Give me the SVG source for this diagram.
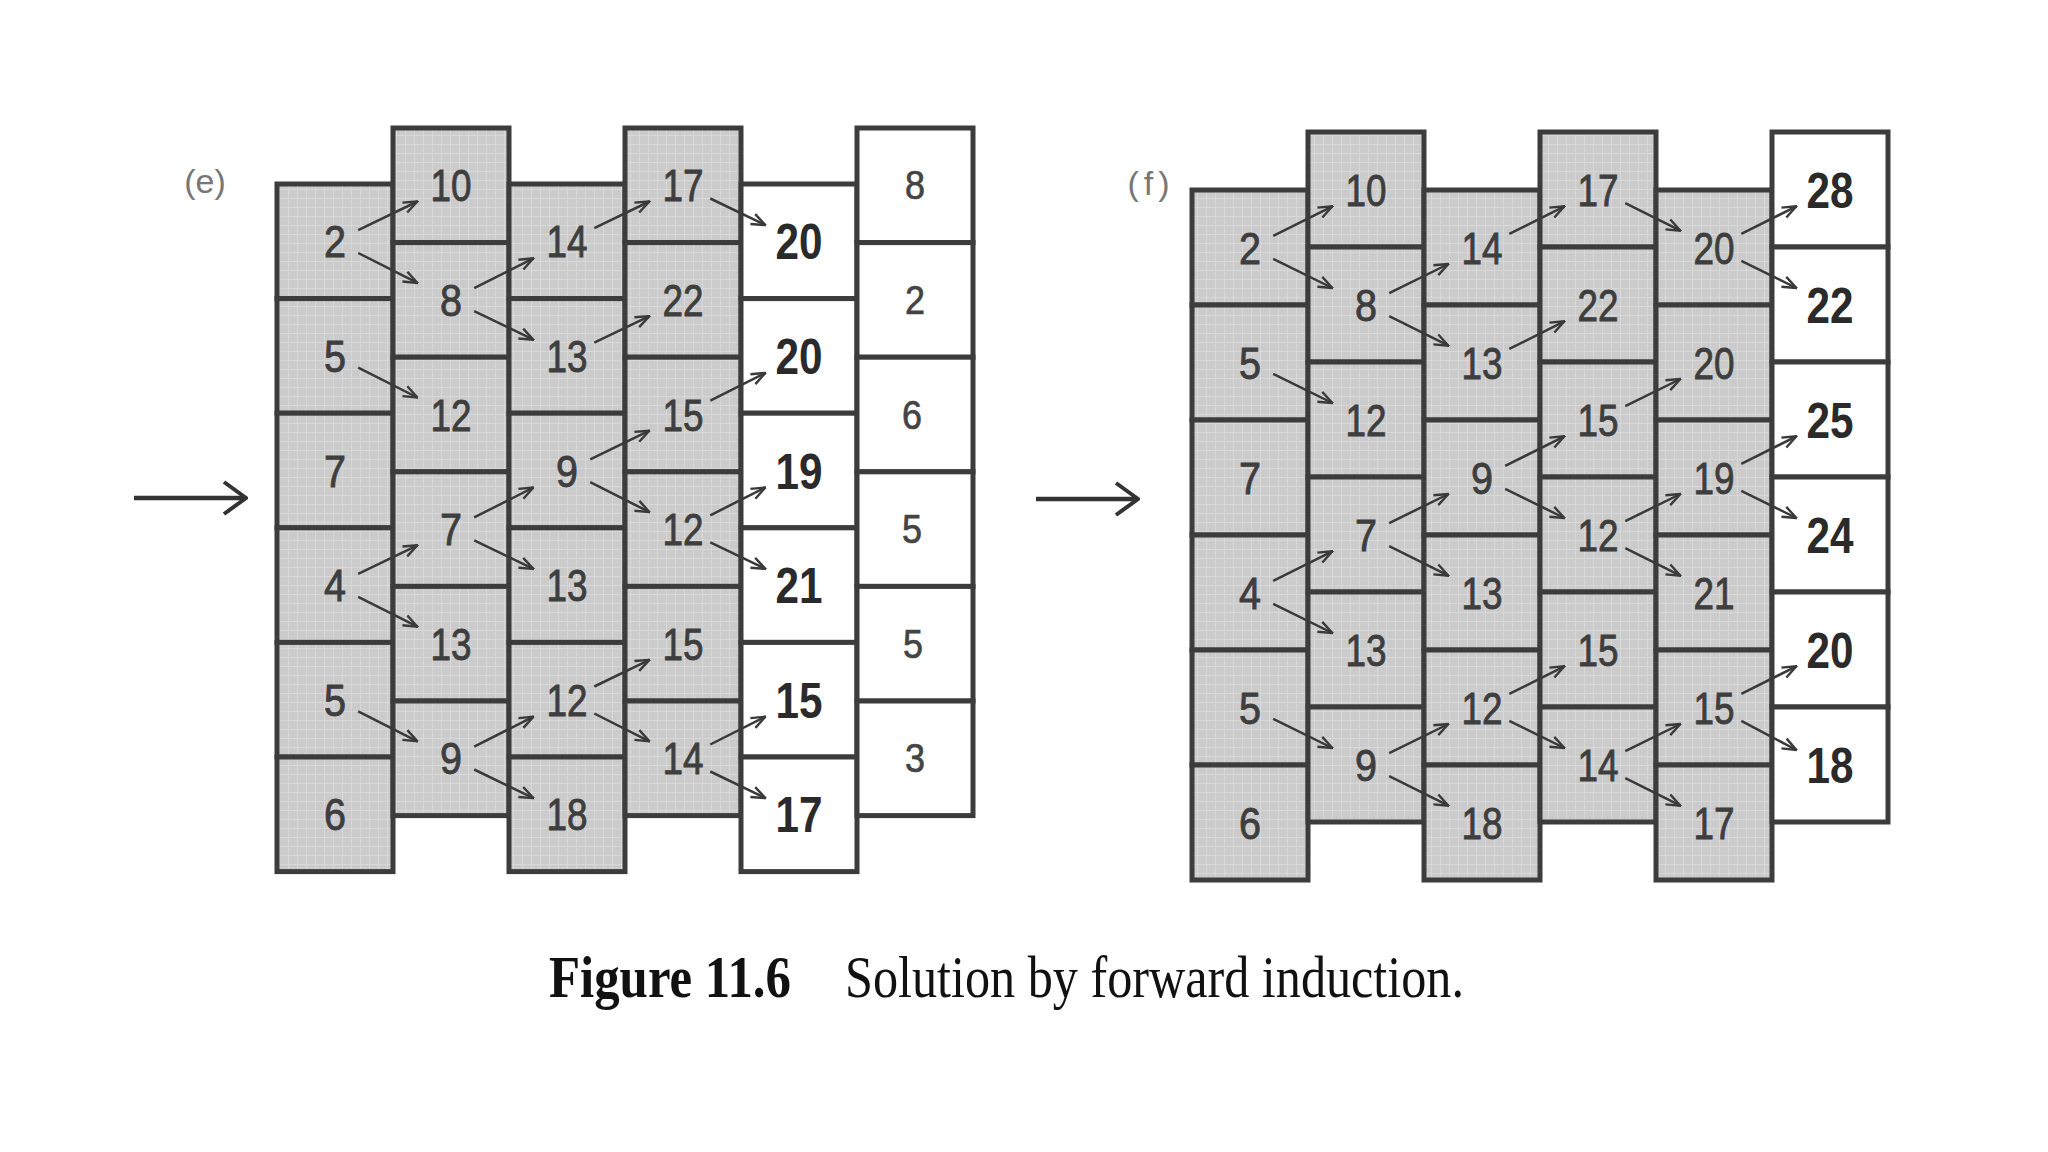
<svg xmlns="http://www.w3.org/2000/svg" width="2048" height="1152" viewBox="0 0 2048 1152">
<style>
.g{fill:url(#grid);stroke:#3c3c3c;stroke-width:5}
.w{fill:#ffffff;stroke:#3c3c3c;stroke-width:5}
.n{font-family:"Liberation Sans",Arial,sans-serif;font-size:45px;fill:#3e3e3e;stroke:#3e3e3e;stroke-width:0.9;text-anchor:middle}
.b{font-family:"Liberation Sans",Arial,sans-serif;font-size:50px;font-weight:bold;fill:#2a2a2a;text-anchor:middle}
.s{font-family:"Liberation Sans",Arial,sans-serif;font-size:40px;fill:#444444;stroke:#444444;stroke-width:0.7;text-anchor:middle}
.lab{font-family:"Liberation Sans",Arial,sans-serif;font-size:34px;fill:#777777;text-anchor:middle}
.a{stroke:#3a3a3a;stroke-width:2.5;fill:none;marker-end:url(#ah)}
.big{stroke:#333333;stroke-width:4.5;fill:none;marker-end:url(#bh)}
.cap{font-family:"Liberation Serif","Times New Roman",serif;font-size:60px;fill:#111111}
</style>
<defs>
<pattern id="grid" width="9" height="9" patternUnits="userSpaceOnUse">
<rect width="9" height="9" fill="#cbcbcb"/>
<path d="M0,0.5 H9 M0.5,0 V9" stroke="#d8d8d8" stroke-width="1"/>
</pattern>
<marker id="ah" viewBox="0 0 16 14" refX="15" refY="7" markerWidth="16" markerHeight="14" markerUnits="userSpaceOnUse" orient="auto">
<path d="M1,1.5 L15,7 L1,12.5" fill="none" stroke="#3a3a3a" stroke-width="2.4"/>
</marker>
<marker id="bh" viewBox="0 0 26 36" refX="24" refY="18" markerWidth="26" markerHeight="36" markerUnits="userSpaceOnUse" orient="auto">
<path d="M2,2 L24,18 L2,34" fill="none" stroke="#333333" stroke-width="4"/>
</marker>
</defs>
<rect width="2048" height="1152" fill="#ffffff"/>

<!-- Panel (e) -->
<g id="panel-e">
<text class="lab" x="205" y="193">(e)</text>
<g id="e-c0r0"><rect class="g" x="277" y="184" width="116" height="114.6"/><text class="n" x="335" y="257.3" textLength="22" lengthAdjust="spacingAndGlyphs">2</text></g>
<g id="e-c0r1"><rect class="g" x="277" y="298.6" width="116" height="114.6"/><text class="n" x="335" y="371.9" textLength="22" lengthAdjust="spacingAndGlyphs">5</text></g>
<g id="e-c0r2"><rect class="g" x="277" y="413.2" width="116" height="114.6"/><text class="n" x="335" y="486.5" textLength="22" lengthAdjust="spacingAndGlyphs">7</text></g>
<g id="e-c0r3"><rect class="g" x="277" y="527.8" width="116" height="114.6"/><text class="n" x="335" y="601.1" textLength="22" lengthAdjust="spacingAndGlyphs">4</text></g>
<g id="e-c0r4"><rect class="g" x="277" y="642.4" width="116" height="114.6"/><text class="n" x="335" y="715.7" textLength="22" lengthAdjust="spacingAndGlyphs">5</text></g>
<g id="e-c0r5"><rect class="g" x="277" y="757" width="116" height="114.6"/><text class="n" x="335" y="830.3" textLength="22" lengthAdjust="spacingAndGlyphs">6</text></g>

<g id="e-c1r0"><rect class="g" x="393" y="128" width="116" height="114.6"/><text class="n" x="451" y="201.3" textLength="41" lengthAdjust="spacingAndGlyphs">10</text></g>
<g id="e-c1r1"><rect class="g" x="393" y="242.6" width="116" height="114.6"/><text class="n" x="451" y="315.9" textLength="22" lengthAdjust="spacingAndGlyphs">8</text></g>
<g id="e-c1r2"><rect class="g" x="393" y="357.2" width="116" height="114.6"/><text class="n" x="451" y="430.5" textLength="41" lengthAdjust="spacingAndGlyphs">12</text></g>
<g id="e-c1r3"><rect class="g" x="393" y="471.8" width="116" height="114.6"/><text class="n" x="451" y="545.1" textLength="22" lengthAdjust="spacingAndGlyphs">7</text></g>
<g id="e-c1r4"><rect class="g" x="393" y="586.4" width="116" height="114.6"/><text class="n" x="451" y="659.7" textLength="41" lengthAdjust="spacingAndGlyphs">13</text></g>
<g id="e-c1r5"><rect class="g" x="393" y="701" width="116" height="114.6"/><text class="n" x="451" y="774.3" textLength="22" lengthAdjust="spacingAndGlyphs">9</text></g>

<g id="e-c2r0"><rect class="g" x="509" y="184" width="116" height="114.6"/><text class="n" x="567" y="257.3" textLength="41" lengthAdjust="spacingAndGlyphs">14</text></g>
<g id="e-c2r1"><rect class="g" x="509" y="298.6" width="116" height="114.6"/><text class="n" x="567" y="371.9" textLength="41" lengthAdjust="spacingAndGlyphs">13</text></g>
<g id="e-c2r2"><rect class="g" x="509" y="413.2" width="116" height="114.6"/><text class="n" x="567" y="486.5" textLength="22" lengthAdjust="spacingAndGlyphs">9</text></g>
<g id="e-c2r3"><rect class="g" x="509" y="527.8" width="116" height="114.6"/><text class="n" x="567" y="601.1" textLength="41" lengthAdjust="spacingAndGlyphs">13</text></g>
<g id="e-c2r4"><rect class="g" x="509" y="642.4" width="116" height="114.6"/><text class="n" x="567" y="715.7" textLength="41" lengthAdjust="spacingAndGlyphs">12</text></g>
<g id="e-c2r5"><rect class="g" x="509" y="757" width="116" height="114.6"/><text class="n" x="567" y="830.3" textLength="41" lengthAdjust="spacingAndGlyphs">18</text></g>

<g id="e-c3r0"><rect class="g" x="625" y="128" width="116" height="114.6"/><text class="n" x="683" y="201.3" textLength="41" lengthAdjust="spacingAndGlyphs">17</text></g>
<g id="e-c3r1"><rect class="g" x="625" y="242.6" width="116" height="114.6"/><text class="n" x="683" y="315.9" textLength="41" lengthAdjust="spacingAndGlyphs">22</text></g>
<g id="e-c3r2"><rect class="g" x="625" y="357.2" width="116" height="114.6"/><text class="n" x="683" y="430.5" textLength="41" lengthAdjust="spacingAndGlyphs">15</text></g>
<g id="e-c3r3"><rect class="g" x="625" y="471.8" width="116" height="114.6"/><text class="n" x="683" y="545.1" textLength="41" lengthAdjust="spacingAndGlyphs">12</text></g>
<g id="e-c3r4"><rect class="g" x="625" y="586.4" width="116" height="114.6"/><text class="n" x="683" y="659.7" textLength="41" lengthAdjust="spacingAndGlyphs">15</text></g>
<g id="e-c3r5"><rect class="g" x="625" y="701" width="116" height="114.6"/><text class="n" x="683" y="774.3" textLength="41" lengthAdjust="spacingAndGlyphs">14</text></g>

<g id="e-c4r0"><rect class="w" x="741" y="184" width="116" height="114.6"/><text class="b" x="799" y="259.3" textLength="47" lengthAdjust="spacingAndGlyphs">20</text></g>
<g id="e-c4r1"><rect class="w" x="741" y="298.6" width="116" height="114.6"/><text class="b" x="799" y="373.9" textLength="47" lengthAdjust="spacingAndGlyphs">20</text></g>
<g id="e-c4r2"><rect class="w" x="741" y="413.2" width="116" height="114.6"/><text class="b" x="799" y="488.5" textLength="47" lengthAdjust="spacingAndGlyphs">19</text></g>
<g id="e-c4r3"><rect class="w" x="741" y="527.8" width="116" height="114.6"/><text class="b" x="799" y="603.1" textLength="47" lengthAdjust="spacingAndGlyphs">21</text></g>
<g id="e-c4r4"><rect class="w" x="741" y="642.4" width="116" height="114.6"/><text class="b" x="799" y="717.7" textLength="47" lengthAdjust="spacingAndGlyphs">15</text></g>
<g id="e-c4r5"><rect class="w" x="741" y="757" width="116" height="114.6"/><text class="b" x="799" y="832.3" textLength="47" lengthAdjust="spacingAndGlyphs">17</text></g>

<g id="e-c5r0"><rect class="w" x="857" y="128" width="116" height="114.6"/><text class="s" x="915" y="199.3" textLength="20" lengthAdjust="spacingAndGlyphs">8</text></g>
<g id="e-c5r1"><rect class="w" x="857" y="242.6" width="116" height="114.6"/><text class="s" x="915" y="313.9" textLength="20" lengthAdjust="spacingAndGlyphs">2</text></g>
<g id="e-c5r2"><rect class="w" x="857" y="357.2" width="116" height="114.6"/><text class="s" x="912" y="428.5" textLength="20" lengthAdjust="spacingAndGlyphs">6</text></g>
<g id="e-c5r3"><rect class="w" x="857" y="471.8" width="116" height="114.6"/><text class="s" x="912" y="543.1" textLength="20" lengthAdjust="spacingAndGlyphs">5</text></g>
<g id="e-c5r4"><rect class="w" x="857" y="586.4" width="116" height="114.6"/><text class="s" x="913" y="657.7" textLength="20" lengthAdjust="spacingAndGlyphs">5</text></g>
<g id="e-c5r5"><rect class="w" x="857" y="701" width="116" height="114.6"/><text class="s" x="915" y="772.3" textLength="20" lengthAdjust="spacingAndGlyphs">3</text></g>
</g>

<!-- Panel (f) -->
<g id="panel-f">
<text class="lab" x="1151" y="195" letter-spacing="5">(f)</text>
<g id="f-c0r0"><rect class="g" x="1192" y="190" width="116" height="115"/><text class="n" x="1250" y="263.5" textLength="22" lengthAdjust="spacingAndGlyphs">2</text></g>
<g id="f-c0r1"><rect class="g" x="1192" y="305" width="116" height="115"/><text class="n" x="1250" y="378.5" textLength="22" lengthAdjust="spacingAndGlyphs">5</text></g>
<g id="f-c0r2"><rect class="g" x="1192" y="420" width="116" height="115"/><text class="n" x="1250" y="493.5" textLength="22" lengthAdjust="spacingAndGlyphs">7</text></g>
<g id="f-c0r3"><rect class="g" x="1192" y="535" width="116" height="115"/><text class="n" x="1250" y="608.5" textLength="22" lengthAdjust="spacingAndGlyphs">4</text></g>
<g id="f-c0r4"><rect class="g" x="1192" y="650" width="116" height="115"/><text class="n" x="1250" y="723.5" textLength="22" lengthAdjust="spacingAndGlyphs">5</text></g>
<g id="f-c0r5"><rect class="g" x="1192" y="765" width="116" height="115"/><text class="n" x="1250" y="838.5" textLength="22" lengthAdjust="spacingAndGlyphs">6</text></g>

<g id="f-c1r0"><rect class="g" x="1308" y="132" width="116" height="115"/><text class="n" x="1366" y="205.5" textLength="41" lengthAdjust="spacingAndGlyphs">10</text></g>
<g id="f-c1r1"><rect class="g" x="1308" y="247" width="116" height="115"/><text class="n" x="1366" y="320.5" textLength="22" lengthAdjust="spacingAndGlyphs">8</text></g>
<g id="f-c1r2"><rect class="g" x="1308" y="362" width="116" height="115"/><text class="n" x="1366" y="435.5" textLength="41" lengthAdjust="spacingAndGlyphs">12</text></g>
<g id="f-c1r3"><rect class="g" x="1308" y="477" width="116" height="115"/><text class="n" x="1366" y="550.5" textLength="22" lengthAdjust="spacingAndGlyphs">7</text></g>
<g id="f-c1r4"><rect class="g" x="1308" y="592" width="116" height="115"/><text class="n" x="1366" y="665.5" textLength="41" lengthAdjust="spacingAndGlyphs">13</text></g>
<g id="f-c1r5"><rect class="g" x="1308" y="707" width="116" height="115"/><text class="n" x="1366" y="780.5" textLength="22" lengthAdjust="spacingAndGlyphs">9</text></g>

<g id="f-c2r0"><rect class="g" x="1424" y="190" width="116" height="115"/><text class="n" x="1482" y="263.5" textLength="41" lengthAdjust="spacingAndGlyphs">14</text></g>
<g id="f-c2r1"><rect class="g" x="1424" y="305" width="116" height="115"/><text class="n" x="1482" y="378.5" textLength="41" lengthAdjust="spacingAndGlyphs">13</text></g>
<g id="f-c2r2"><rect class="g" x="1424" y="420" width="116" height="115"/><text class="n" x="1482" y="493.5" textLength="22" lengthAdjust="spacingAndGlyphs">9</text></g>
<g id="f-c2r3"><rect class="g" x="1424" y="535" width="116" height="115"/><text class="n" x="1482" y="608.5" textLength="41" lengthAdjust="spacingAndGlyphs">13</text></g>
<g id="f-c2r4"><rect class="g" x="1424" y="650" width="116" height="115"/><text class="n" x="1482" y="723.5" textLength="41" lengthAdjust="spacingAndGlyphs">12</text></g>
<g id="f-c2r5"><rect class="g" x="1424" y="765" width="116" height="115"/><text class="n" x="1482" y="838.5" textLength="41" lengthAdjust="spacingAndGlyphs">18</text></g>

<g id="f-c3r0"><rect class="g" x="1540" y="132" width="116" height="115"/><text class="n" x="1598" y="205.5" textLength="41" lengthAdjust="spacingAndGlyphs">17</text></g>
<g id="f-c3r1"><rect class="g" x="1540" y="247" width="116" height="115"/><text class="n" x="1598" y="320.5" textLength="41" lengthAdjust="spacingAndGlyphs">22</text></g>
<g id="f-c3r2"><rect class="g" x="1540" y="362" width="116" height="115"/><text class="n" x="1598" y="435.5" textLength="41" lengthAdjust="spacingAndGlyphs">15</text></g>
<g id="f-c3r3"><rect class="g" x="1540" y="477" width="116" height="115"/><text class="n" x="1598" y="550.5" textLength="41" lengthAdjust="spacingAndGlyphs">12</text></g>
<g id="f-c3r4"><rect class="g" x="1540" y="592" width="116" height="115"/><text class="n" x="1598" y="665.5" textLength="41" lengthAdjust="spacingAndGlyphs">15</text></g>
<g id="f-c3r5"><rect class="g" x="1540" y="707" width="116" height="115"/><text class="n" x="1598" y="780.5" textLength="41" lengthAdjust="spacingAndGlyphs">14</text></g>

<g id="f-c4r0"><rect class="g" x="1656" y="190" width="116" height="115"/><text class="n" x="1714" y="263.5" textLength="41" lengthAdjust="spacingAndGlyphs">20</text></g>
<g id="f-c4r1"><rect class="g" x="1656" y="305" width="116" height="115"/><text class="n" x="1714" y="378.5" textLength="41" lengthAdjust="spacingAndGlyphs">20</text></g>
<g id="f-c4r2"><rect class="g" x="1656" y="420" width="116" height="115"/><text class="n" x="1714" y="493.5" textLength="41" lengthAdjust="spacingAndGlyphs">19</text></g>
<g id="f-c4r3"><rect class="g" x="1656" y="535" width="116" height="115"/><text class="n" x="1714" y="608.5" textLength="41" lengthAdjust="spacingAndGlyphs">21</text></g>
<g id="f-c4r4"><rect class="g" x="1656" y="650" width="116" height="115"/><text class="n" x="1714" y="723.5" textLength="41" lengthAdjust="spacingAndGlyphs">15</text></g>
<g id="f-c4r5"><rect class="g" x="1656" y="765" width="116" height="115"/><text class="n" x="1714" y="838.5" textLength="41" lengthAdjust="spacingAndGlyphs">17</text></g>

<g id="f-c5r0"><rect class="w" x="1772" y="132" width="116" height="115"/><text class="b" x="1830" y="207.5" textLength="47" lengthAdjust="spacingAndGlyphs">28</text></g>
<g id="f-c5r1"><rect class="w" x="1772" y="247" width="116" height="115"/><text class="b" x="1830" y="322.5" textLength="47" lengthAdjust="spacingAndGlyphs">22</text></g>
<g id="f-c5r2"><rect class="w" x="1772" y="362" width="116" height="115"/><text class="b" x="1830" y="437.5" textLength="47" lengthAdjust="spacingAndGlyphs">25</text></g>
<g id="f-c5r3"><rect class="w" x="1772" y="477" width="116" height="115"/><text class="b" x="1830" y="552.5" textLength="47" lengthAdjust="spacingAndGlyphs">24</text></g>
<g id="f-c5r4"><rect class="w" x="1772" y="592" width="116" height="115"/><text class="b" x="1830" y="667.5" textLength="47" lengthAdjust="spacingAndGlyphs">20</text></g>
<g id="f-c5r5"><rect class="w" x="1772" y="707" width="116" height="115"/><text class="b" x="1830" y="782.5" textLength="47" lengthAdjust="spacingAndGlyphs">18</text></g>
</g>

<!-- Connectors -->
<g id="connectors">
<path class="big" d="M134,498 H246"/>
<path class="big" d="M1036,499 H1138"/>
<!-- panel e -->
<path class="a" d="M358.2,230.1 L417.4,201.5"/>
<path class="a" d="M358.2,253.0 L417.4,282.9"/>
<path class="a" d="M358.2,367.6 L417.4,397.5"/>
<path class="a" d="M358.2,573.9 L417.4,545.3"/>
<path class="a" d="M358.2,596.8 L417.4,626.7"/>
<path class="a" d="M358.2,711.4 L417.4,741.3"/>
<path class="a" d="M474.2,288.2 L533.4,258.3"/>
<path class="a" d="M474.2,311.1 L533.4,339.7"/>
<path class="a" d="M474.2,517.4 L533.4,487.5"/>
<path class="a" d="M474.2,540.3 L533.4,568.9"/>
<path class="a" d="M474.2,746.6 L533.4,716.7"/>
<path class="a" d="M474.2,769.5 L533.4,798.1"/>
<path class="a" d="M594.3,228.1 L649.4,201.5"/>
<path class="a" d="M594.3,342.7 L649.4,316.1"/>
<path class="a" d="M590.2,459.3 L649.4,430.7"/>
<path class="a" d="M590.2,482.2 L649.4,512.1"/>
<path class="a" d="M594.3,686.5 L649.4,659.9"/>
<path class="a" d="M594.3,713.5 L649.4,741.3"/>
<path class="a" d="M710.3,198.5 L765.4,225.1"/>
<path class="a" d="M710.3,400.7 L765.4,372.9"/>
<path class="a" d="M710.3,515.3 L765.4,487.5"/>
<path class="a" d="M710.3,542.3 L765.4,568.9"/>
<path class="a" d="M710.3,744.5 L765.4,716.7"/>
<path class="a" d="M710.3,771.5 L765.4,798.1"/>
<!-- panel f -->
<path class="a" d="M1273.2,235.9 L1332.4,206.3"/>
<path class="a" d="M1273.2,258.9 L1332.4,288.0"/>
<path class="a" d="M1273.2,373.9 L1332.4,403.0"/>
<path class="a" d="M1273.2,580.9 L1332.4,551.3"/>
<path class="a" d="M1273.2,603.9 L1332.4,633.0"/>
<path class="a" d="M1273.2,718.9 L1332.4,748.0"/>
<path class="a" d="M1389.2,293.1 L1448.4,264.0"/>
<path class="a" d="M1389.2,316.1 L1448.4,345.7"/>
<path class="a" d="M1389.2,523.1 L1448.4,494.0"/>
<path class="a" d="M1389.2,546.1 L1448.4,575.7"/>
<path class="a" d="M1389.2,753.1 L1448.4,724.0"/>
<path class="a" d="M1389.2,776.1 L1448.4,805.7"/>
<path class="a" d="M1509.3,233.9 L1564.4,206.3"/>
<path class="a" d="M1509.3,348.9 L1564.4,321.3"/>
<path class="a" d="M1505.2,465.9 L1564.4,436.3"/>
<path class="a" d="M1505.2,488.9 L1564.4,518.0"/>
<path class="a" d="M1509.3,693.9 L1564.4,666.3"/>
<path class="a" d="M1509.3,720.9 L1564.4,748.0"/>
<path class="a" d="M1625.3,203.1 L1680.4,230.7"/>
<path class="a" d="M1625.3,406.1 L1680.4,379.0"/>
<path class="a" d="M1625.3,521.1 L1680.4,494.0"/>
<path class="a" d="M1625.3,548.1 L1680.4,575.7"/>
<path class="a" d="M1625.3,751.1 L1680.4,724.0"/>
<path class="a" d="M1625.3,778.1 L1680.4,805.7"/>
<path class="a" d="M1741.3,233.9 L1796.4,206.3"/>
<path class="a" d="M1741.3,260.9 L1796.4,288.0"/>
<path class="a" d="M1741.3,463.9 L1796.4,436.3"/>
<path class="a" d="M1741.3,490.9 L1796.4,518.0"/>
<path class="a" d="M1741.3,693.9 L1796.4,666.3"/>
<path class="a" d="M1741.3,720.9 L1796.4,750.0"/>
</g>

<g id="caption">
<text class="cap" x="549" y="997" font-weight="bold" textLength="242" lengthAdjust="spacingAndGlyphs">Figure 11.6</text>
<text class="cap" x="845" y="997" textLength="619" lengthAdjust="spacingAndGlyphs">Solution by forward induction.</text>
</g>
</svg>
